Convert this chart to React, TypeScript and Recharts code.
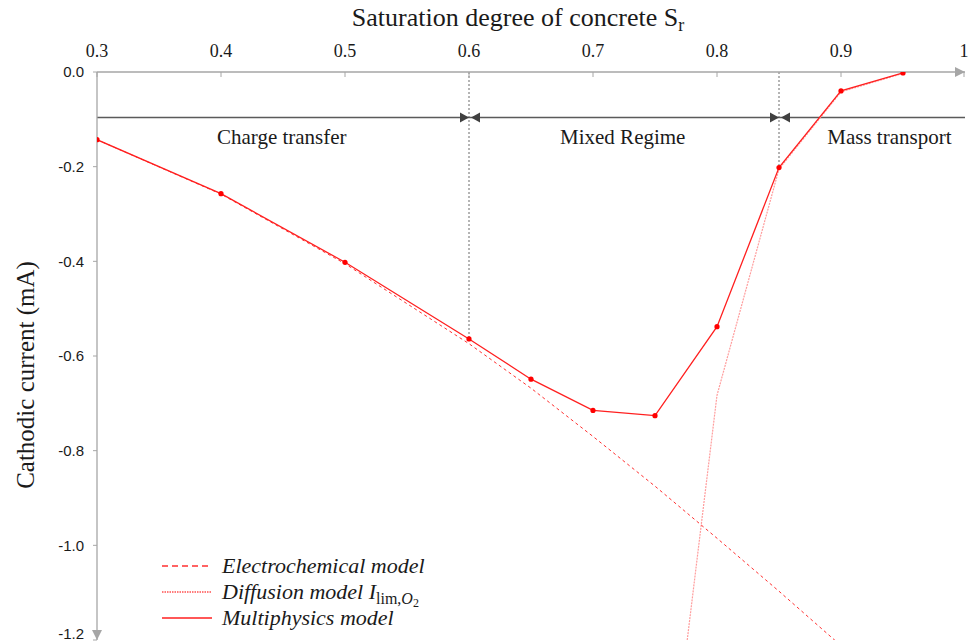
import React from "react";
import {
  ComposedChart,
  Line,
  XAxis,
  YAxis,
  ReferenceLine,
  ReferenceDot,
} from "recharts";

// saturation degree ticks (top axis) and current ticks (left axis)
const SR_TICKS = [0.3, 0.4, 0.5, 0.6, 0.7, 0.8, 0.9, 1.0];
const CURRENT_TICKS = [0, -0.2, -0.4, -0.6, -0.8, -1.0, -1.2];

// multiphysics model
const MULTI_SR = [0.3, 0.4, 0.5, 0.6, 0.65, 0.7, 0.75, 0.8, 0.85, 0.9, 0.95];
const MULTI_I = [-0.143, -0.257, -0.402, -0.564, -0.649, -0.715, -0.726, -0.538, -0.202, -0.04, -0.002];

// electrochemical model (runs off the bottom past 0.9)
const ELECTRO_SR = [0.3, 0.4, 0.5, 0.6, 0.65, 0.7, 0.75, 0.8, 0.85, 0.9];
const ELECTRO_I = [-0.143, -0.258, -0.405, -0.574, -0.668, -0.77, -0.875, -0.985, -1.097, -1.212];

// diffusion limited current I_lim,O2
const DIFF_SR = [0.75, 0.8, 0.85, 0.9, 0.95];
const DIFF_I = [-1.76, -0.683, -0.205, -0.042, -0.003];

// regime boundaries and names
const REGIME_BOUNDS = [0.3, 0.6, 0.85, 1.0];
const REGIME_NAMES = ["Charge transfer", "Mixed Regime", "Mass transport"];
const REGIME_NAME_SR = [0.449, 0.724, 0.939];
const REGIME_LINE_I = -0.096;
const REGIME_NAME_I = -0.137;

const zip = (xs: number[], ys: number[]) => xs.map((s, k) => ({ s, i: ys[k] }));

const multi = zip(MULTI_SR, MULTI_I);
const electro = zip(ELECTRO_SR, ELECTRO_I);
const diffusion = zip(DIFF_SR, DIFF_I);

const SERIF = "'Liberation Serif', 'DejaVu Serif', serif";
const SANS = "'Liberation Sans', Arial, sans-serif";
const AXIS_GRAY = "#a6a6a6";
const ARROW_DARK = "#404040";
const RED = "#ff1f1f";

const currentAt = (sr: number) => MULTI_I[MULTI_SR.indexOf(sr)];

// small filled triangles used as arrow heads
const arrow = (dir: "left" | "right" | "down", color: string, len = 9, half = 5) =>
  (props: any) => {
    const { cx, cy } = props;
    let d = "";
    if (dir === "right") d = `M${cx},${cy} L${cx - len},${cy - half} L${cx - len},${cy + half} Z`;
    if (dir === "left") d = `M${cx},${cy} L${cx + len},${cy - half} L${cx + len},${cy + half} Z`;
    if (dir === "down") d = `M${cx},${cy} L${cx - half},${cy - len} L${cx + half},${cy - len} Z`;
    return <path d={d} fill={color} />;
  };

const regimeText = (text: string) => (props: any) => (
  <text
    x={props.cx}
    y={props.cy}
    textAnchor="middle"
    dominantBaseline="central"
    fontFamily={SERIF}
    fontSize={21}
    fill="#1a1a1a"
  >
    {text}
  </text>
);

const SrTick = (props: any) => {
  const { x, y, payload } = props;
  const v = payload.value as number;
  return (
    <g>
      <line x1={x} x2={x} y1={y + 15} y2={y + 20} stroke={AXIS_GRAY} />
      <text x={x} y={y} textAnchor="middle" fontFamily={SERIF} fontSize={18} fill="#1a1a1a">
        {v === 1 ? "1" : v.toFixed(1)}
      </text>
    </g>
  );
};

const SrTitle = (props: any) => {
  const { viewBox } = props;
  return (
    <text x={518} y={viewBox.y - 4} textAnchor="middle" fontFamily={SERIF} fontSize={26} fill="#1a1a1a">
      Saturation degree of concrete S
      <tspan fontSize={18} dy={5}>r</tspan>
    </text>
  );
};

const CurrentTitle = () => (
  <text
    x={25}
    y={375}
    transform="rotate(-90 25 375)"
    textAnchor="middle"
    dominantBaseline="central"
    fontFamily={SERIF}
    fontSize={25}
    fill="#1a1a1a"
  >
    Cathodic current (mA)
  </text>
);

const LegendRow = ({ dash, width, color, children }: any) => (
  <div style={{ display: "flex", alignItems: "center", height: 26 }}>
    <svg width={62} height={10} style={{ flex: "none" }}>
      <line x1={2} x2={52} y1={5} y2={5} stroke={color} strokeWidth={width} strokeDasharray={dash} />
    </svg>
    <span style={{ fontFamily: SERIF, fontStyle: "italic", fontSize: 22, lineHeight: "26px", color: "#1a1a1a", whiteSpace: "nowrap" }}>
      {children}
    </span>
  </div>
);

const lowered = (dy: number, size: number, italic = false): React.CSSProperties => ({
  position: "relative",
  top: dy,
  fontSize: size,
  lineHeight: 0,
  fontStyle: italic ? "italic" : "normal",
});

export default function App() {
  return (
    <div style={{ position: "fixed", left: 0, top: 0, width: 968, height: 642, background: "#fff", overflow: "hidden" }}>
      <ComposedChart width={968} height={642} margin={{ top: 30, right: 3, bottom: 2, left: 0 }}>
        <XAxis
          xAxisId={0}
          type="number"
          dataKey="s"
          orientation="top"
          domain={[0.3, 1]}
          ticks={SR_TICKS}
          allowDataOverflow
          height={42}
          tickSize={0}
          tickMargin={15}
          tick={<SrTick />}
          tickLine={false}
          axisLine={{ stroke: AXIS_GRAY, strokeWidth: 1.3 }}
          label={<SrTitle />}
        />
        <YAxis
          yAxisId={0}
          type="number"
          dataKey="i"
          domain={[-1.2, 0]}
          ticks={CURRENT_TICKS}
          allowDataOverflow
          width={97}
          tickSize={4}
          tickMargin={9}
          tickFormatter={(v: number) => v.toFixed(1)}
          tick={{ fontFamily: SANS, fontSize: 15, fill: "#1a1a1a" }}
          tickLine={{ stroke: AXIS_GRAY }}
          axisLine={{ stroke: AXIS_GRAY, strokeWidth: 1.3 }}
          label={<CurrentTitle />}
        />

        {/* axis arrow heads */}
        <ReferenceDot x={1} y={0} r={0} ifOverflow="visible" shape={arrow("right", AXIS_GRAY, 10, 5)} />
        <ReferenceDot x={0.3} y={-1.2} r={0} ifOverflow="visible" shape={arrow("down", AXIS_GRAY, 10, 5)} />

        {/* regime boundaries, dropped from the axis to the curve */}
        {[0.6, 0.85].map((sr) => (
          <ReferenceLine
            key={`b${sr}`}
            segment={[{ x: sr, y: 0 }, { x: sr, y: currentAt(sr) }]}
            stroke="#6b6b6b"
            strokeWidth={1}
            strokeDasharray="2 2"
            ifOverflow="visible"
          />
        ))}

        {/* regime spans */}
        {REGIME_NAMES.map((_, k) => (
          <ReferenceLine
            key={`r${k}`}
            segment={[
              { x: REGIME_BOUNDS[k], y: REGIME_LINE_I },
              { x: REGIME_BOUNDS[k + 1], y: REGIME_LINE_I },
            ]}
            stroke="#5a5a5a"
            strokeWidth={1.4}
            ifOverflow="visible"
          />
        ))}
        {[0.6, 0.85].map((sr) => (
          <ReferenceDot key={`ar${sr}`} x={sr} y={REGIME_LINE_I} r={0} ifOverflow="visible"
            shape={arrow("right", ARROW_DARK, 9, 5)} />
        ))}
        {[0.6, 0.85].map((sr) => (
          <ReferenceDot key={`al${sr}`} x={sr} y={REGIME_LINE_I} r={0} ifOverflow="visible"
            shape={(p: any) => arrow("left", ARROW_DARK, 9, 5)({ ...p, cx: p.cx + 2 })} />
        ))}
        {REGIME_NAMES.map((name, k) => (
          <ReferenceDot key={`n${k}`} x={REGIME_NAME_SR[k]} y={REGIME_NAME_I} r={0} ifOverflow="visible"
            shape={regimeText(name)} />
        ))}

        <Line
          data={diffusion}
          dataKey="i"
          type="linear"
          stroke="#ff9c9c"
          strokeWidth={1.2}
          strokeDasharray="2 1"
          dot={false}
          isAnimationActive={false}
        />
        <Line
          data={electro}
          dataKey="i"
          type="linear"
          stroke="#ff3030"
          strokeWidth={1}
          strokeDasharray="3 3"
          dot={false}
          isAnimationActive={false}
        />
        <Line
          data={multi}
          dataKey="i"
          type="linear"
          stroke={RED}
          strokeWidth={1.3}
          dot={{ r: 2.6, fill: "#ff0000", stroke: "none" }}
          isAnimationActive={false}
        />
      </ComposedChart>

      <div style={{ position: "absolute", left: 160, top: 553 }}>
        <LegendRow dash="6 4" width={1.4} color="#ff3030">Electrochemical model</LegendRow>
        <LegendRow dash="1.5 1" width={1.6} color="#ff5050">
          Diffusion model I
          <span style={lowered(5, 16)}>lim,</span>
          <span style={lowered(5, 16, true)}>O</span>
          <span style={lowered(8, 12)}>2</span>
        </LegendRow>
        <LegendRow width={1.6} color="#ff1f1f">Multiphysics model</LegendRow>
      </div>
    </div>
  );
}
